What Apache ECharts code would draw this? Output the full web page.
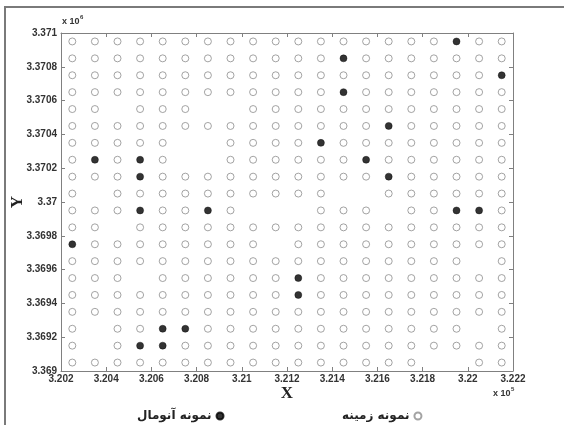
<!DOCTYPE html>
<html><head><meta charset="utf-8">
<script src="https://cdn.jsdelivr.net/npm/echarts@6/dist/echarts.min.js"></script>
<style>html,body{margin:0;padding:0;background:#fff}#c{width:564px;height:425px}</style>
</head><body><div id="c"></div>
<script>
// Column X coordinates (m) and row Y coordinates (m), top row first
const xCols = [320250,320350,320450,320550,320650,320750,320850,320950,321050,321150,
               321250,321350,321450,321550,321650,321750,321850,321950,322050,322150];
const yRows = [3370950,3370850,3370750,3370650,3370550,3370450,3370350,3370250,3370150,3370050,
               3369950,3369850,3369750,3369650,3369550,3369450,3369350,3369250,3369150,3369050];
// Sample map per row: 'o' background sample, '*' anomaly sample, '.' no sample
const sampleMap = [
  "ooooooooooooooooo*oo",
  "oooooooooooo*ooooooo",
  "ooooooooooooooooooo*",
  "oooooooooooo*ooooooo",
  "oo.ooo..oooooooooooo",
  "oooooooooooooo*ooooo",
  "ooooo..oooo*oooooooo",
  "o*o*o..oooooo*oooooo",
  "ooo*oooooooooo*ooooo",
  "o.oooooooooo..oooooo",
  "ooo*oo*o...ooo.oo**o",
  "oo.ooooooooooooooooo",
  "*oooooooo.oooooooooo",
  "oooooooooooooooooo.o",
  "ooo.oooooo*ooooooooo",
  "oooooooooo*ooooooooo",
  "oooooooooooooooooooo",
  "o.oo**oooooooooooo.o",
  "o.o**ooooooooooooooo",
  "oooooooooooooooo..oo"
];
const xTicks = [320200, 322200, 200];
const yTicks = [3369000, 3371000, 200];
const nameBackground = 'نمونه زمینه';
const nameAnomaly = 'نمونه آنومال';

const bg = [], an = [];
sampleMap.forEach((row, r) => {
  row.split('').forEach((ch, c) => {
    if (ch === 'o') bg.push([xCols[c], yRows[r]]);
    else if (ch === '*') an.push([xCols[c], yRows[r]]);
  });
});

const fmt = (s) => (v) => String(parseFloat((v / s).toFixed(4)));
const axCol = '#808080';
const lblStyle = {color: '#333', fontFamily: 'Liberation Sans, Arial', fontWeight: 'bold', fontSize: 10};

const chart = echarts.init(document.getElementById('c'), null, {renderer: 'canvas'});
chart.setOption({
  animation: false,
  backgroundColor: '#fff',
  grid: {left: 61, top: 33, width: 452, height: 338, containLabel: false, outerBoundsMode: 'none'},
  xAxis: [{
    type: 'value', min: xTicks[0], max: xTicks[1], interval: xTicks[2],
    position: 'bottom',
    axisLine: {show: true, onZero: false, lineStyle: {color: axCol, width: 1}},
    axisTick: {show: true, inside: true, length: 4, lineStyle: {color: axCol}},
    axisLabel: Object.assign({formatter: fmt(1e5), margin: 3}, lblStyle),
    splitLine: {show: false},
    name: 'X', nameLocation: 'middle', nameGap: 14, nameMoveOverlap: false,
    nameTextStyle: {fontFamily: 'Liberation Serif, Times New Roman', fontWeight: 'bold', fontSize: 17, color: '#222'}
  }, {
    type: 'value', min: xTicks[0], max: xTicks[1], interval: xTicks[2],
    position: 'top',
    axisLine: {show: true, onZero: false, lineStyle: {color: axCol, width: 1}},
    axisTick: {show: true, inside: true, length: 4, lineStyle: {color: axCol}},
    axisLabel: {show: false}, splitLine: {show: false}
  }],
  yAxis: [{
    type: 'value', min: yTicks[0], max: yTicks[1], interval: yTicks[2],
    position: 'left',
    axisLine: {show: true, onZero: false, lineStyle: {color: axCol, width: 1}},
    axisTick: {show: true, inside: true, length: 4, lineStyle: {color: axCol}},
    axisLabel: Object.assign({formatter: fmt(1e6), margin: 4}, lblStyle),
    splitLine: {show: false},
    name: 'Y', nameLocation: 'middle', nameGap: 35, nameRotate: 90, nameMoveOverlap: false,
    nameTextStyle: {fontFamily: 'Liberation Serif, Times New Roman', fontWeight: 'bold', fontSize: 17, color: '#222'}
  }, {
    type: 'value', min: yTicks[0], max: yTicks[1], interval: yTicks[2],
    position: 'right',
    axisLine: {show: true, onZero: false, lineStyle: {color: axCol, width: 1}},
    axisTick: {show: true, inside: true, length: 4, lineStyle: {color: axCol}},
    axisLabel: {show: false}, splitLine: {show: false}
  }],
  legend: [{
    data: [{name: nameAnomaly}], left: 132, top: 405, align: 'right',
    itemWidth: 7, itemHeight: 7, itemGap: 5,
    textStyle: {fontFamily: 'DejaVu Sans', fontWeight: 'bold', fontSize: 12, color: '#222'}
  }, {
    data: [{name: nameBackground}], left: 337, top: 405, align: 'right',
    itemWidth: 7, itemHeight: 7, itemGap: 5,
    textStyle: {fontFamily: 'DejaVu Sans', fontWeight: 'bold', fontSize: 12, color: '#222'}
  }],
  graphic: [
    {type: 'polyline', shape: {points: [[5, 430], [5, 7], [570, 7]]}, style: {stroke: '#7a7a7a', lineWidth: 2, fill: null}},
    {type: 'text', left: 62, top: 17, style: {text: 'x 10', font: 'bold 9px Liberation Sans', fill: '#333'}},
    {type: 'text', left: 80, top: 14, style: {text: '6', font: 'bold 6px Liberation Sans', fill: '#333'}},
    {type: 'text', left: 493, top: 389, style: {text: 'x 10', font: 'bold 9px Liberation Sans', fill: '#333'}},
    {type: 'text', left: 511, top: 386, style: {text: '5', font: 'bold 6px Liberation Sans', fill: '#333'}}
  ],
  series: [{
    name: nameBackground, type: 'scatter', data: bg, symbol: 'circle', symbolSize: 7,
    itemStyle: {color: '#fff', borderColor: '#8c8c8c', borderWidth: 1}
  }, {
    name: nameAnomaly, type: 'scatter', data: an, symbol: 'circle', symbolSize: 7,
    itemStyle: {color: '#000', borderColor: '#000', borderWidth: 0.5}
  }]
});
</script>
</body></html>
